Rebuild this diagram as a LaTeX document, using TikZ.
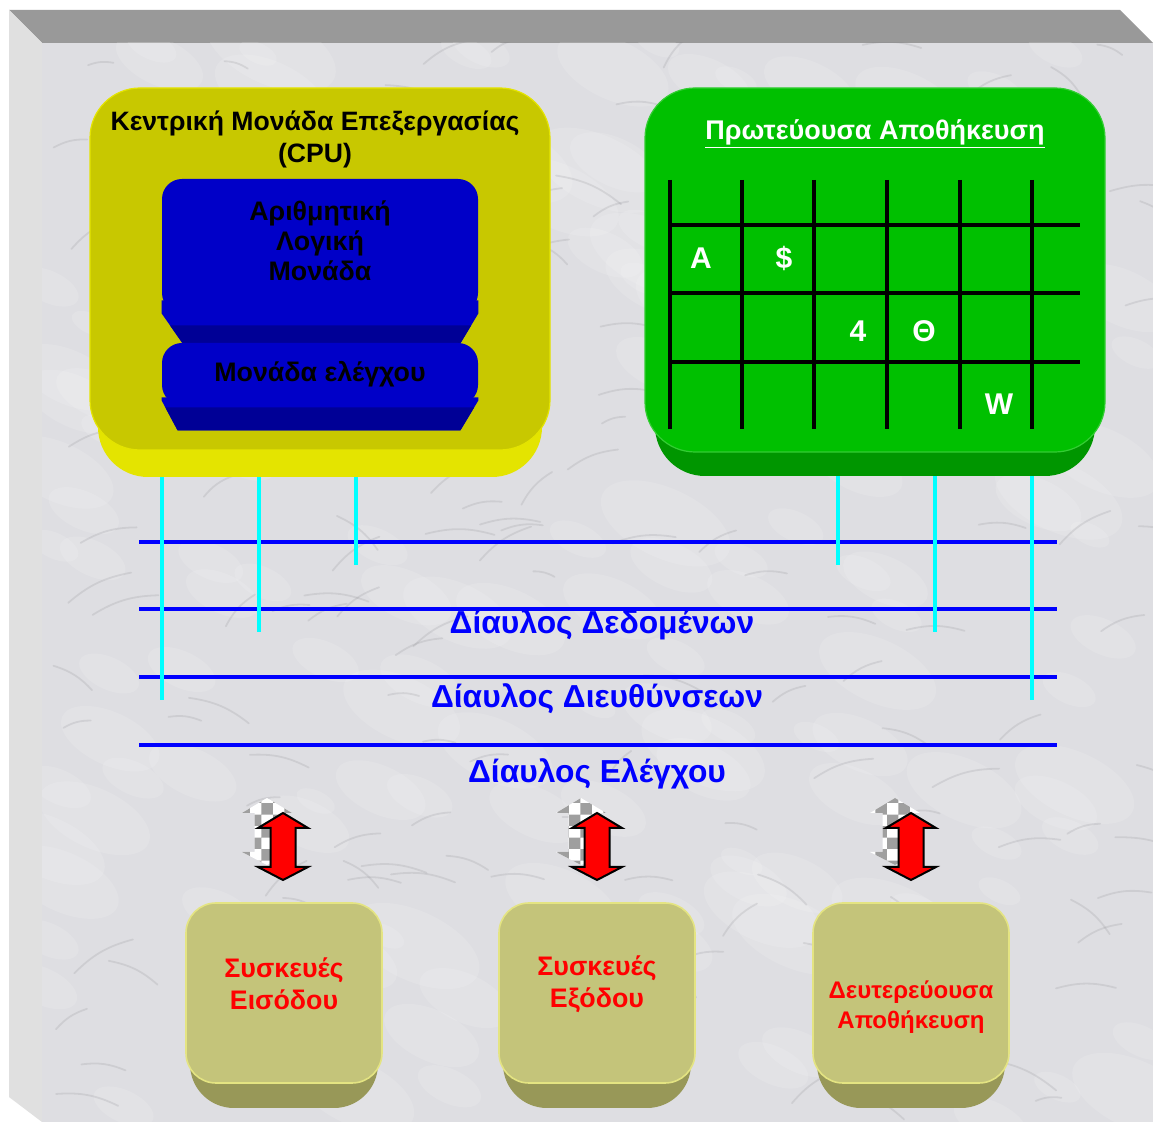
\documentclass[tikz,border=0pt]{standalone}
\usepackage{fontspec}
\setmainfont{Liberation Sans}
\usepackage{tikz}
\usetikzlibrary{patterns,positioning}
\definecolor{FrameTop}  {RGB}{153,153,153}
\definecolor{FrameLeft} {RGB}{224,224,224}
\definecolor{Marble}    {RGB}{222,222,226}
\definecolor{MarbleVein}{RGB}{120,120,126}
\definecolor{CpuFace}   {RGB}{200,200,0}
\definecolor{CpuSide}   {RGB}{228,228,0}
\definecolor{UnitFace}  {RGB}{0,0,200}
\definecolor{UnitSide}  {RGB}{0,0,150}
\definecolor{MemFace}   {RGB}{0,192,0}
\definecolor{MemSide}   {RGB}{0,150,0}
\definecolor{TapCyan}   {RGB}{0,255,255}
\definecolor{BusBlue}   {RGB}{0,0,255}
\definecolor{DevFace}   {RGB}{196,196,122}
\definecolor{DevSide}   {RGB}{152,152,88}
\definecolor{DevEdge}   {RGB}{228,228,130}
\definecolor{ArrowRed}  {RGB}{255,0,0}

\begin{document}
\begin{tikzpicture}[
  x=0.5pt, y=-0.5pt,
  vein/.style={
    draw=MarbleVein, line width=0.9pt,
    opacity=0.16, line cap=round},
  blotch/.style={fill=white, opacity=0.13},
  cpuface/.style={
    fill=CpuFace, draw=CpuSide, line width=0.6pt,
    rounded corners=25pt, inner sep=0pt,
    minimum width=230pt, minimum height=181pt},
  cpuside/.style={
    fill=CpuSide, rounded corners=25pt, inner sep=0pt,
    minimum width=222pt, minimum height=181pt},
  memface/.style={
    fill=MemFace, draw=MemFace!80!white, line width=0.6pt,
    rounded corners=25pt, inner sep=0pt,
    minimum width=230pt, minimum height=182pt},
  memside/.style={
    fill=MemSide, rounded corners=25pt, inner sep=0pt,
    minimum width=220pt, minimum height=181pt},
  unitface/.style={
    fill=UnitFace, rounded corners=10pt, inner sep=0pt,
    minimum width=158pt, align=center,
    font=\fontsize{13.4}{15}\selectfont\bfseries},
  devface/.style={
    fill=DevFace, draw=DevEdge, line width=0.8pt,
    rounded corners=15pt, inner sep=0pt,
    minimum width=98pt, minimum height=90pt},
  devside/.style={
    fill=DevSide, rounded corners=22pt, inner sep=0pt,
    minimum width=94pt, minimum height=90pt},
  devtext/.style={
    text=ArrowRed, align=center,
    font=\fontsize{13.4}{16}\selectfont\bfseries},
  title/.style={
    align=center,
    font=\fontsize{13.3}{16}\selectfont\bfseries},
  cell/.style={
    text=white,
    font=\fontsize{15}{18}\selectfont\bfseries},
  gridline/.style={line width=2pt, black},
  bus/.style={line width=2pt, BusBlue},
  tap/.style={line width=2pt, TapCyan},
  buslabel/.style={
    text=BusBlue,
    font=\fontsize{15.9}{18}\selectfont\bfseries},
  dblarrow/.style={
    fill=ArrowRed, draw=black, line width=1pt,
    line join=miter}
]
\useasboundingbox (0,0) rectangle (1153,1122);

% frame and marble
\fill[white] (0,0) rectangle (1153,1122);
\fill[FrameTop] (9,10) -- (1120,10) -- (1153,43) -- (42,43) -- cycle;
\fill[FrameLeft] (9,10) -- (42,43) -- (42,1122) -- (9,1097) -- cycle;
\fill[Marble] (42,43) rectangle (1153,1122);
\pgfmathsetseed{11}
\begin{scope}
  \clip (42,43) rectangle (1153,1122);
  \foreach \b in {1,...,160} {
    \pgfmathsetmacro\bx{42+1111*rnd}
    \pgfmathsetmacro\by{43+1079*rnd}
    \pgfmathsetmacro\br{10+25*rnd}
    \fill[blotch, rotate around={-25:(\bx,\by)}]
      (\bx,\by) ellipse ({\br*2} and \br);
  }
  \foreach \v in {1,...,160} {
    \pgfmathsetmacro\vx{42+1111*rnd}
    \pgfmathsetmacro\vy{43+1079*rnd}
    \pgfmathsetmacro\vdx{20+50*rnd}
    \pgfmathsetmacro\vdy{-35+70*rnd}
    \draw[vein] (\vx,\vy) to[bend left=15] (\vx+\vdx,\vy+\vdy);
  }
\end{scope}

% CPU
\node[cpuside] (cpuedge) at (320,296) {};
\node[cpuface] (cpu) at (320,269) {};
\node[title] (cputitle) at (315,139)
  {Κεντρική Μονάδα Επεξεργασίας\\(CPU)};

\node[unitface, minimum height=67pt, text depth=5pt] (alu) at (320,246)
  {Αριθμητική\\Λογική\\Μονάδα};
\fill[UnitFace] ([shift={(0,-13)}]alu.south west)
  -- ([shift={(0,-13)}]alu.south east) -- (alu.south east)
  -- ([shift={(-18,30)}]alu.south east)
  -- ([shift={(21,30)}]alu.south west) -- (alu.south west) -- cycle;
\fill[UnitSide] ([shift={(8.4,12)}]alu.south west)
  -- ([shift={(-7.2,12)}]alu.south east)
  -- ([shift={(-18,30)}]alu.south east)
  -- ([shift={(21,30)}]alu.south west) -- cycle;

\node[unitface, minimum height=31pt] (ctrl) at (320,374)
  {Μονάδα ελέγχου};
\fill[UnitFace] ([shift={(0,-8)}]ctrl.south west)
  -- ([shift={(0,-8)}]ctrl.south east)
  -- ([shift={(0,-5)}]ctrl.south east)
  -- ([shift={(-18,25)}]ctrl.south east)
  -- ([shift={(16,25)}]ctrl.south west)
  -- ([shift={(0,-5)}]ctrl.south west) -- cycle;
\fill[UnitSide] ([shift={(3.7,2)}]ctrl.south west)
  -- ([shift={(-4.2,2)}]ctrl.south east)
  -- ([shift={(-18,25)}]ctrl.south east)
  -- ([shift={(16,25)}]ctrl.south west) -- cycle;

% main memory
\node[memside] (memedge) at (875,295) {};
\node[memface] (mem) at (875,270) {};
\node[title, text=white] (memtitle) at (875,134)
  {\fontsize{13.5}{16}\selectfont\underline{Πρωτεύουσα Αποθήκευση}};
\foreach \gx in {670,742,814,887,960,1032}
  \draw[gridline] (\gx,180) -- (\gx,429);
\foreach \gy in {225,293,362}
  \draw[gridline] (670,\gy) -- (1080,\gy);
\node[cell] (cellA) at (701,258) {A};
\node[cell] (cellS) at (784,258) {\$};
\node[cell] (cell4) at (858,331) {4};
\node[cell] (cellT) at (924,331) {Θ};
\node[cell] (cellW) at (999,404) {W};

% buses
\coordinate (bus1w) at (139,542);  \coordinate (bus1e) at (1057,542);
\coordinate (bus2w) at (139,609);  \coordinate (bus2e) at (1057,609);
\coordinate (bus3w) at (139,677);  \coordinate (bus3e) at (1057,677);
\coordinate (bus4w) at (139,745);  \coordinate (bus4e) at (1057,745);
\draw[bus] (bus1w) -- (bus1e);
\draw[bus] (bus2w) -- (bus2e);
\draw[bus] (bus3w) -- (bus3e);
\draw[bus] (bus4w) -- (bus4e);

\coordinate (tapC1) at (162,700);
\coordinate (tapC2) at (259,632);
\coordinate (tapC3) at (356,565);
\coordinate (tapM1) at (838,565);
\coordinate (tapM2) at (935,632);
\coordinate (tapM3) at (1032,700);
\draw[tap] (cpuedge.south -| tapC1) -- (tapC1);
\draw[tap] (cpuedge.south -| tapC2) -- (tapC2);
\draw[tap] (cpuedge.south -| tapC3) -- (tapC3);
\draw[tap] (memedge.south -| tapM1) -- (tapM1);
\draw[tap] (memedge.south -| tapM2) -- (tapM2);
\draw[tap] (memedge.south -| tapM3) -- (tapM3);

\node[buslabel] (databus) at (602,625) {Δίαυλος Δεδομένων};
\node[buslabel] (addrbus) at (597,699) {Δίαυλος Διευθύνσεων};
\node[buslabel] (ctrlbus) at (597,774) {Δίαυλος Ελέγχου};

% arrows
\foreach \ax in {283,597,911} {
  \begin{scope}[shift={(\ax-16,831)}]
    \fill[white] (0,-33) -- (25,-18) -- (12.5,-18) -- (12.5,21)
      -- (25,21) -- (0,34) -- (-25,21) -- (-12.5,21)
      -- (-12.5,-18) -- (-25,-18) -- cycle;
    \fill[pattern=checkerboard, pattern color=gray!75]
      (0,-33) -- (25,-18) -- (12.5,-18) -- (12.5,21)
      -- (25,21) -- (0,34) -- (-25,21) -- (-12.5,21)
      -- (-12.5,-18) -- (-25,-18) -- cycle;
  \end{scope}
  \begin{scope}[shift={(\ax,846)}]
    \filldraw[dblarrow] (0,-33) -- (25,-18) -- (12.5,-18) -- (12.5,21)
      -- (25,21) -- (0,34) -- (-25,21) -- (-12.5,21)
      -- (-12.5,-18) -- (-25,-18) -- cycle;
  \end{scope}
}

% devices
\node[devside] (inedge) at (284,1018) {};
\node[devface] (indev) at (284,993) {};
\node[devtext] (intext) at (284,984) {Συσκευές\\Εισόδου};

\node[devside] (outedge) at (597,1018) {};
\node[devface] (outdev) at (597,993) {};
\node[devtext] (outtext) at (597,984) {Συσκευές\\Εξόδου};

\node[devside] (secedge) at (911,1018) {};
\node[devface] (secdev) at (911,993) {};
\node[devtext, font=\fontsize{12}{15}\selectfont\bfseries]
  (sectext) at (911,1007) {Δευτερεύουσα\\Αποθήκευση};

\end{tikzpicture}
\end{document}
